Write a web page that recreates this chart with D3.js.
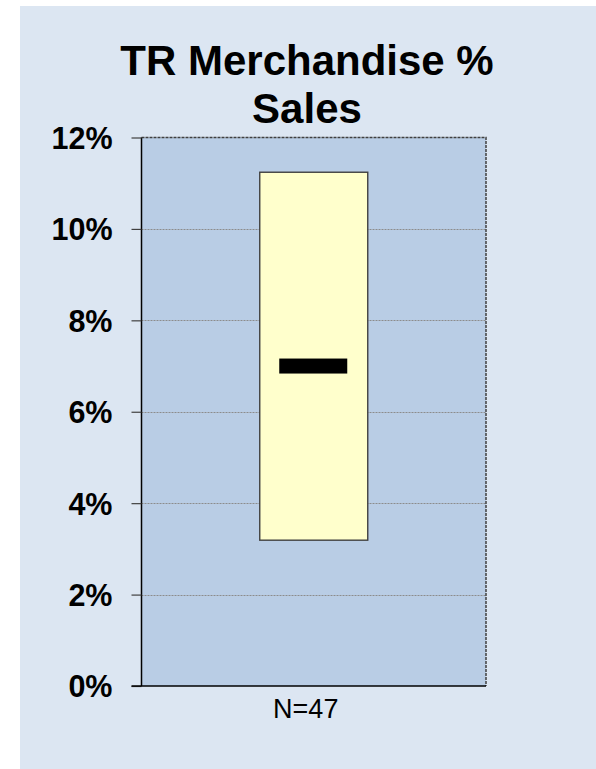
<!DOCTYPE html>
<html>
<head>
<meta charset="utf-8">
<script src="https://cdn.jsdelivr.net/npm/d3@7"></script>
<style>
  html, body { margin: 0; padding: 0; background: #ffffff; }
  svg { display: block; }
</style>
</head>
<body>
<svg id="chart" width="596" height="769"></svg>
<script>
// Box summary for the single group (values in %)
const categories = ["N=47"];
const boxLow = [3.19];
const boxHigh = [11.24];
const medians = [7.0];
const yTicks = [0, 2, 4, 6, 8, 10, 12];
const titleLines = ["TR Merchandise %", "Sales"];

const svg = d3.select("#chart");
const W = 596, H = 769;

// panel background
svg.append("rect")
  .attr("x", 20).attr("y", 6)
  .attr("width", W - 20).attr("height", H - 6)
  .attr("fill", "#dce6f2");

const plot = { left: 141.5, right: 486, top: 137.5, bottom: 686 };

const y = d3.scaleLinear().domain([0, 12]).range([plot.bottom, plot.top]);
const x = d3.scaleBand().domain(categories)
  .range([plot.left, plot.right]).paddingInner(0).paddingOuter(0);

// plot area fill
svg.append("rect")
  .attr("x", plot.left).attr("y", plot.top)
  .attr("width", plot.right - plot.left).attr("height", plot.bottom - plot.top)
  .attr("fill", "#b9cde5");

// horizontal gridlines
svg.append("g").selectAll("line")
  .data(yTicks.filter(t => t > 0 && t < 12))
  .join("line")
  .attr("x1", plot.left).attr("x2", plot.right)
  .attr("y1", d => Math.round(y(d)) + 0.5).attr("y2", d => Math.round(y(d)) + 0.5)
  .attr("stroke", "#8c8c8c").attr("stroke-width", 1)
  .attr("stroke-dasharray", "2,1");

// top and right frame edges
svg.append("path")
  .attr("d", `M${plot.left},${plot.top} H${plot.right} V${plot.bottom}`)
  .attr("fill", "none").attr("stroke", "#404040").attr("stroke-width", 1.5)
  .attr("stroke-dasharray", "3,1");

// boxes
const boxW = 108;
const medW = 68;
const g = svg.append("g");
g.selectAll("rect.box")
  .data(categories)
  .join("rect")
  .attr("class", "box")
  .attr("x", (d) => x(d) + x.bandwidth() / 2 - boxW / 2)
  .attr("y", (d, i) => y(boxHigh[i]))
  .attr("width", boxW)
  .attr("height", (d, i) => y(boxLow[i]) - y(boxHigh[i]))
  .attr("fill", "#ffffcc")
  .attr("stroke", "#404040").attr("stroke-width", 1.4);

g.selectAll("rect.median")
  .data(categories)
  .join("rect")
  .attr("class", "median")
  .attr("x", (d) => x(d) + x.bandwidth() / 2 - medW / 2 - 0.5)
  .attr("y", (d, i) => y(medians[i]) - 7.5)
  .attr("width", medW)
  .attr("height", 15)
  .attr("fill", "#000000");

// y axis
const yAxis = d3.axisLeft(y)
  .tickValues(yTicks)
  .tickSize(10)
  .tickPadding(19)
  .tickFormat(d => d + "%");
const ya = svg.append("g")
  .attr("transform", `translate(${plot.left},0)`)
  .call(yAxis);
ya.select(".domain").attr("stroke", "#000").attr("stroke-width", 1.5)
  .attr("d", `M0,${plot.top}V${plot.bottom}`);
ya.selectAll(".tick line").attr("stroke", "#404040").attr("stroke-width", 1.2);
ya.selectAll(".tick text")
  .attr("font-family", "'Liberation Sans', Arial, sans-serif")
  .attr("font-weight", "bold")
  .attr("font-size", 30.5)
  .attr("fill", "#000")
  .attr("dy", "0.36em");

// x axis baseline
svg.append("line")
  .attr("x1", plot.left - 10).attr("x2", plot.right)
  .attr("y1", plot.bottom).attr("y2", plot.bottom)
  .attr("stroke", "#000").attr("stroke-width", 1.5);

// category label
svg.append("g").selectAll("text")
  .data(categories)
  .join("text")
  .attr("x", d => x(d) + x.bandwidth() / 2 - 8)
  .attr("y", 718)
  .attr("text-anchor", "middle")
  .attr("font-family", "'Liberation Sans', Arial, sans-serif")
  .attr("font-size", 27)
  .attr("fill", "#000")
  .text(d => d);

// title
svg.append("g").selectAll("text")
  .data(titleLines)
  .join("text")
  .attr("x", 307)
  .attr("y", (d, i) => 74.5 + i * 48.5)
  .attr("text-anchor", "middle")
  .attr("font-family", "'Liberation Sans', Arial, sans-serif")
  .attr("font-weight", "bold")
  .attr("font-size", 42)
  .attr("fill", "#000")
  .text(d => d);
</script>
</body>
</html>
